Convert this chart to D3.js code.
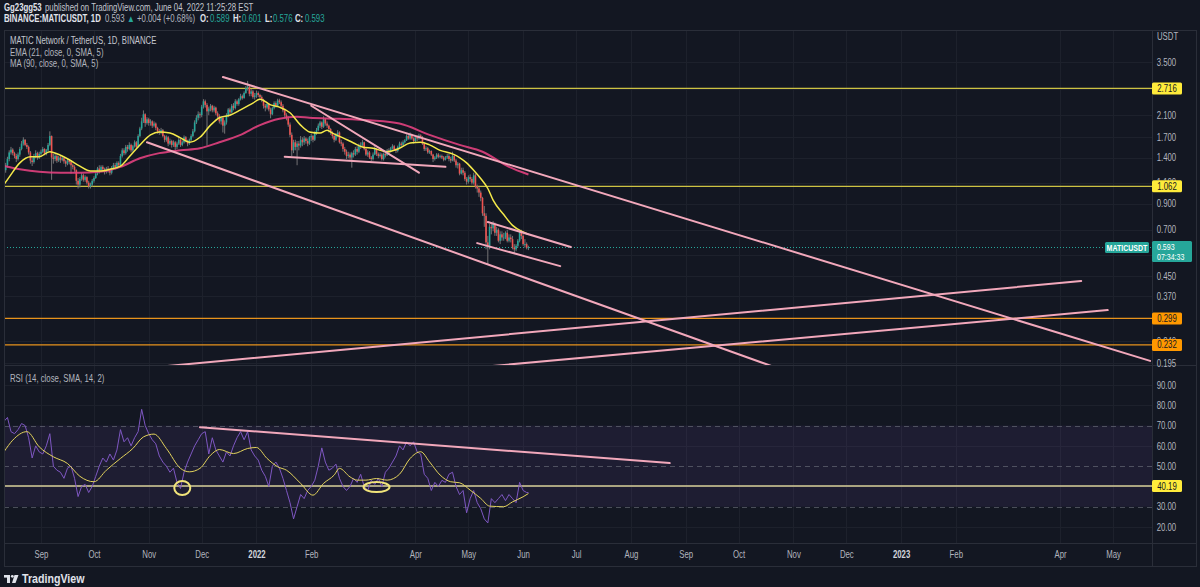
<!DOCTYPE html>
<html>
<head>
	<meta charset="utf-8">
	<script src="https://cdn.jsdelivr.net/npm/d3@7"></script>
	<style>
		body { margin: 0; background: #131722; }
		svg { display: block; }
		text { font-family: "Liberation Sans", Arial, sans-serif; }
	</style>
</head>
<body>
<svg></svg>
<script>
// daily candles, day 0 = 2021-08-11, open = previous close
var firstOpen = 1.20;
var closes = [
	1.24, 1.30, 1.38, 1.47, 1.51, 1.46, 1.42, 1.38, 1.44, 1.52, 1.60, 1.66, 1.58, 1.55, 1.47, 1.36, 1.34, 1.42, 1.46, 1.40, 1.45,
	1.48, 1.52, 1.45, 1.50, 1.58, 1.72, 1.40, 1.38, 1.42, 1.36, 1.40, 1.37, 1.39, 1.35, 1.32, 1.36, 1.34, 1.30, 1.28, 1.24, 1.12, 1.08, 1.14, 1.18, 1.13, 1.16, 1.10, 1.06, 1.08, 1.12,
	1.15, 1.20, 1.26, 1.24, 1.28, 1.25, 1.22, 1.26, 1.24, 1.21, 1.27, 1.30, 1.28, 1.33, 1.30, 1.42, 1.50, 1.46, 1.55, 1.52, 1.58, 1.50, 1.56, 1.62, 1.55, 1.72, 1.85, 1.98, 2.12, 1.95, 2.02,
	1.95, 1.98, 1.90, 1.94, 1.86, 1.80, 1.78, 1.82, 1.72, 1.66, 1.70, 1.60, 1.64, 1.58, 1.62, 1.55, 1.60, 1.66, 1.58, 1.62, 1.70, 1.64, 1.60, 1.66, 1.72, 1.80, 1.96, 2.05, 2.12, 2.10,
	2.28, 2.40, 2.32, 2.18, 2.24, 2.30, 2.20, 2.26, 2.14, 2.08, 1.98, 2.05, 1.90, 1.96, 2.10, 2.22, 2.16, 2.30, 2.25, 2.40, 2.34, 2.45, 2.52, 2.48, 2.60, 2.72, 2.76, 2.58, 2.64, 2.50, 2.54,
	2.60, 2.55, 2.50, 2.44, 2.30, 2.26, 2.34, 2.22, 2.12, 2.25, 2.36, 2.30, 2.42, 2.38, 2.30, 2.20, 2.10, 2.04, 1.92, 1.74, 1.50, 1.62, 1.55, 1.60, 1.57, 1.66, 1.62, 1.68, 1.64, 1.60, 1.70,
	1.72, 1.66, 1.78, 1.82, 1.90, 1.96, 1.88, 2.02, 1.94, 1.90, 1.84, 1.78, 1.72, 1.66, 1.74, 1.78, 1.62, 1.60, 1.52, 1.48, 1.42, 1.44, 1.40, 1.46, 1.44, 1.52, 1.48, 1.56,
	1.58, 1.62, 1.52, 1.44, 1.47, 1.40, 1.38, 1.44, 1.52, 1.45, 1.42, 1.44, 1.38, 1.45, 1.43, 1.50, 1.48, 1.53, 1.56, 1.51, 1.49, 1.55, 1.60, 1.58, 1.62, 1.65, 1.72, 1.68, 1.74, 1.68, 1.64,
	1.70, 1.68, 1.73, 1.70, 1.60, 1.52, 1.53, 1.47, 1.49, 1.44, 1.38, 1.40, 1.44, 1.41, 1.42, 1.40, 1.37, 1.40, 1.42, 1.38, 1.36, 1.42, 1.36, 1.30, 1.32, 1.20, 1.24, 1.21, 1.14, 1.11,
	1.16, 1.14, 1.10, 1.18, 1.06, 1.04, 1.00, 0.95, 0.82, 0.80, 0.62, 0.60, 0.72, 0.71, 0.74, 0.68, 0.70, 0.63, 0.67, 0.65, 0.65, 0.68, 0.63, 0.65, 0.64, 0.59, 0.58, 0.60, 0.63, 0.68, 0.66,
	0.61, 0.61, 0.589, 0.593
];
var highs = [
	1.27, 1.33, 1.41, 1.50, 1.55, 1.53, 1.48, 1.45, 1.47, 1.55, 1.64, 1.70, 1.67, 1.61, 1.57, 1.49, 1.40, 1.45, 1.50, 1.48, 1.48,
	1.51, 1.55, 1.53, 1.52, 1.61, 1.80, 1.73, 1.45, 1.46, 1.44, 1.42, 1.42, 1.41, 1.40, 1.37, 1.38, 1.38, 1.36, 1.32, 1.30, 1.25, 1.15, 1.16, 1.21, 1.20, 1.18, 1.17, 1.12, 1.10, 1.14,
	1.17, 1.22, 1.28, 1.30, 1.30, 1.30, 1.27, 1.28, 1.29, 1.26, 1.29, 1.33, 1.33, 1.35, 1.35, 1.45, 1.53, 1.53, 1.58, 1.58, 1.62, 1.60, 1.58, 1.65, 1.64, 1.75, 1.88, 2.05, 2.20, 2.14, 2.06,
	2.05, 2.02, 2.00, 1.98, 1.96, 1.88, 1.84, 1.86, 1.84, 1.74, 1.73, 1.72, 1.68, 1.66, 1.65, 1.64, 1.63, 1.69, 1.68, 1.65, 1.73, 1.72, 1.66, 1.68, 1.75, 1.84, 2.00, 2.10, 2.18, 2.16,
	2.32, 2.45, 2.44, 2.36, 2.28, 2.34, 2.32, 2.30, 2.28, 2.18, 2.12, 2.08, 2.08, 2.00, 2.14, 2.25, 2.26, 2.34, 2.36, 2.45, 2.44, 2.48, 2.58, 2.56, 2.64, 2.78, 2.92, 2.80, 2.70, 2.68, 2.60,
	2.66, 2.64, 2.58, 2.54, 2.46, 2.34, 2.38, 2.36, 2.26, 2.28, 2.40, 2.40, 2.46, 2.46, 2.42, 2.34, 2.24, 2.14, 2.08, 1.96, 1.78, 1.66, 1.66, 1.64, 1.64, 1.72, 1.70, 1.72, 1.70, 1.68, 1.72,
	1.76, 1.74, 1.80, 1.86, 1.94, 1.99, 1.98, 2.08, 2.04, 1.98, 1.92, 1.86, 1.80, 1.74, 1.77, 1.82, 1.80, 1.66, 1.62, 1.55, 1.51, 1.48, 1.47, 1.48, 1.50, 1.55, 1.56, 1.60,
	1.62, 1.66, 1.63, 1.54, 1.50, 1.49, 1.42, 1.47, 1.56, 1.53, 1.47, 1.47, 1.46, 1.47, 1.47, 1.52, 1.53, 1.55, 1.59, 1.58, 1.53, 1.57, 1.63, 1.63, 1.65, 1.67, 1.75, 1.76, 1.78, 1.76, 1.70,
	1.72, 1.73, 1.76, 1.75, 1.72, 1.62, 1.56, 1.55, 1.51, 1.50, 1.45, 1.42, 1.46, 1.46, 1.44, 1.44, 1.42, 1.42, 1.45, 1.45, 1.41, 1.48, 1.44, 1.38, 1.34, 1.33, 1.27, 1.27, 1.23, 1.16,
	1.18, 1.19, 1.16, 1.21, 1.20, 1.08, 1.06, 1.02, 0.96, 0.88, 0.82, 0.66, 0.74, 0.75, 0.76, 0.75, 0.72, 0.71, 0.69, 0.69, 0.68, 0.69, 0.70, 0.67, 0.67, 0.66, 0.61, 0.61, 0.64, 0.69, 0.70,
	0.67, 0.64, 0.62, 0.601
];
var lows = [
	1.17, 1.21, 1.27, 1.35, 1.44, 1.43, 1.39, 1.34, 1.36, 1.41, 1.50, 1.57, 1.56, 1.52, 1.44, 1.32, 1.29, 1.32, 1.39, 1.37, 1.38,
	1.42, 1.46, 1.43, 1.43, 1.48, 1.56, 1.13, 1.32, 1.35, 1.33, 1.34, 1.33, 1.35, 1.32, 1.28, 1.30, 1.31, 1.20, 1.25, 1.22, 1.08, 1.04, 1.05, 1.12, 1.11, 1.11, 1.08, 1.04, 1.04, 1.06,
	1.10, 1.14, 1.18, 1.20, 1.22, 1.22, 1.19, 1.20, 1.21, 1.18, 1.19, 1.25, 1.25, 1.26, 1.27, 1.29, 1.40, 1.43, 1.44, 1.48, 1.50, 1.47, 1.48, 1.54, 1.52, 1.54, 1.70, 1.82, 1.95, 1.88, 1.92,
	1.90, 1.90, 1.86, 1.87, 1.82, 1.76, 1.74, 1.75, 1.70, 1.62, 1.63, 1.56, 1.58, 1.54, 1.55, 1.50, 1.52, 1.58, 1.55, 1.56, 1.60, 1.62, 1.56, 1.58, 1.64, 1.70, 1.78, 1.93, 2.00, 2.04,
	2.06, 2.24, 2.26, 1.57, 2.10, 2.18, 2.16, 2.16, 2.10, 2.04, 1.94, 1.92, 1.78, 1.76, 1.92, 2.06, 2.10, 2.14, 2.20, 2.22, 2.30, 2.30, 2.42, 2.44, 2.46, 2.58, 2.66, 2.52, 2.52, 2.46, 2.44,
	2.48, 2.50, 2.46, 2.38, 2.24, 2.18, 2.22, 2.18, 2.04, 2.10, 2.22, 2.26, 2.28, 2.34, 2.26, 2.16, 2.06, 2.00, 1.88, 1.70, 1.42, 1.46, 1.50, 1.30, 1.50, 1.54, 1.56, 1.58, 1.60, 1.56, 1.58,
	1.64, 1.62, 1.64, 1.74, 1.80, 1.86, 1.84, 1.86, 1.90, 1.86, 1.78, 1.74, 1.68, 1.62, 1.64, 1.70, 1.60, 1.56, 1.48, 1.44, 1.38, 1.39, 1.37, 1.27, 1.40, 1.42, 1.44, 1.46,
	1.52, 1.55, 1.50, 1.42, 1.41, 1.38, 1.35, 1.36, 1.43, 1.42, 1.39, 1.40, 1.36, 1.36, 1.40, 1.42, 1.46, 1.47, 1.51, 1.49, 1.46, 1.47, 1.53, 1.55, 1.56, 1.60, 1.64, 1.66, 1.66, 1.66, 1.60,
	1.62, 1.64, 1.66, 1.68, 1.58, 1.49, 1.49, 1.45, 1.45, 1.42, 1.34, 1.36, 1.38, 1.39, 1.39, 1.38, 1.35, 1.36, 1.38, 1.35, 1.33, 1.35, 1.34, 1.27, 1.26, 1.18, 1.19, 1.18, 1.12, 1.08,
	1.09, 1.11, 1.08, 1.08, 1.04, 1.00, 0.96, 0.92, 0.80, 0.72, 0.58, 0.50, 0.58, 0.67, 0.69, 0.66, 0.66, 0.62, 0.61, 0.63, 0.63, 0.64, 0.62, 0.62, 0.62, 0.58, 0.56, 0.57, 0.59, 0.62, 0.64,
	0.60, 0.59, 0.58, 0.576
];

// indicator lines: [day, value]
var emaPts = [[0,1.08],[3,1.16],[9,1.33],[15,1.41],[20,1.41],[26,1.48],[32,1.43],[37,1.37],[43,1.29],[49,1.23],[54,1.23],[60,1.25],[66,1.29],[71,1.41],[77,1.58],[83,1.74],[88,1.79],[94,1.77],[100,1.69],[105,1.62],[111,1.70],[117,1.91],[122,2.05],[128,2.10],[134,2.21],[141,2.36],[145,2.45],[151,2.32],[156,2.27],[162,2.15],[168,1.91],[173,1.79],[179,1.77],[183,1.82],[186,1.77],[192,1.69],[198,1.61],[203,1.55],[209,1.53],[217,1.48],[224,1.53],[230,1.61],[236,1.62],[241,1.58],[247,1.50],[254,1.45],[258,1.40],[262,1.33],[266,1.24],[271,1.12],[274,1.04],[277,0.93],[283,0.81],[288,0.73],[294,0.685],[297,0.67]];
var maPts = [[0,1.29],[9,1.25],[20,1.22],[32,1.21],[43,1.21],[54,1.22],[66,1.28],[77,1.39],[88,1.46],[100,1.50],[111,1.53],[122,1.62],[134,1.74],[145,1.91],[156,2.03],[166,2.07],[173,2.05],[190,2.03],[207,2.00],[224,1.94],[241,1.74],[258,1.58],[271,1.48],[286,1.28],[297,1.19]];
var rsiPts = [[0,72],[2,74],[4,67],[6,66],[8,68],[10,71],[12,70],[14,64],[16,54],[18,60],[20,57],[22,56],[24,60],[26,66],[28,50],[30,48],[32,47],[34,44],[36,49],[38,50],[40,44],[42,35],[44,40],[46,41],[48,37],[50,40],[52,45],[54,50],[56,54],[58,52],[60,56],[62,53],[64,58],[66,68],[68,62],[70,64],[72,60],[74,64],[76,67],[78,78],[80,70],[82,66],[84,63],[86,61],[88,55],[90,52],[92,50],[94,47],[96,49],[98,42],[100,39],[102,47],[104,52],[106,56],[108,60],[110,63],[112,66],[114,67],[116,56],[118,64],[120,58],[122,55],[124,52],[126,57],[128,55],[130,60],[132,64],[134,67],[136,63],[138,67],[140,58],[142,55],[144,53],[146,48],[148,45],[150,40],[152,50],[154,52],[156,49],[158,44],[160,38],[162,32],[164,24],[166,30],[168,36],[170,34],[172,38],[174,40],[176,43],[178,50],[180,59],[182,52],[184,48],[186,49],[188,51],[190,44],[192,40],[194,38],[196,40],[198,44],[200,42],[202,46],[204,40],[206,38],[208,43],[210,41],[212,44],[214,40],[216,47],[218,49],[220,52],[222,55],[224,60],[226,58],[228,62],[230,60],[232,62],[234,57],[236,56],[238,46],[240,44],[242,38],[244,42],[246,40],[248,43],[250,42],[252,46],[254,47],[256,40],[258,36],[260,38],[262,27],[264,34],[266,38],[268,32],[270,29],[272,24],[274,22],[276,34],[278,32],[280,34],[282,36],[284,33],[286,36],[288,34],[290,32],[292,42],[294,38],[296,37],[297,37]];
var rsiMaPts = [[0,57],[5,62.8],[13,67],[20,59.5],[28,54.6],[36,51.3],[43,45],[51,42.3],[58,48],[66,53.8],[73,58.7],[79,64.4],[85,65.8],[92,58.7],[100,48.9],[105,47.2],[111,48.9],[117,55.4],[122,58.2],[130,56.2],[138,58.7],[143,59.2],[149,53.8],[155,49.7],[160,48],[168,41.5],[175,35.7],[181,41.5],[187,45.6],[190,48.9],[196,44.7],[200,43.1],[205,43.1],[211,43.9],[217,43.1],[224,46],[230,53.8],[236,57.1],[241,52.1],[247,45.6],[253,42.3],[258,41.8],[264,38.2],[270,34.1],[275,30.3],[283,30],[288,32.4],[294,34.9],[297,36.5]];

// drawn levels and trend lines
var priceLevels = [2.716, 1.062, 0.299, 0.232];
var rsiLevel = 40.19;
var trendLines = [
	[["2021-12-13", 3.03], ["2023-05-22", 0.199]],
	[["2021-10-31", 1.62], ["2022-10-20", 0.189]],
	[["2022-02-01", 2.30], ["2022-04-03", 1.21]],
	[["2022-01-17", 1.41], ["2022-04-18", 1.28]],
	[["2022-05-12", 0.754], ["2022-06-28", 0.593]],
	[["2022-05-06", 0.616], ["2022-06-22", 0.494]],
	[["2021-11-10", 0.189], ["2023-04-13", 0.428]],
	[["2022-05-13", 0.189], ["2023-04-28", 0.324]]
];
var rsiTrend = [["2021-11-30", 69.2], ["2022-08-23", 51.5]];
var rsiMarks = [["2021-11-20", 39.2], ["2022-03-10", 39.7]];

// axes
var priceGrid = [3.5, 2.7, 2.1, 1.7, 1.4, 1.1, 0.9, 0.7, 0.55, 0.45, 0.37, 0.3, 0.24, 0.195];
var priceTicks = [3.5, 2.1, 1.7, 1.4, 1.1, 0.9, 0.7, 0.45, 0.37, 0.3, 0.24, 0.195];
var rsiTicks = [20, 30, 50, 60, 70, 80, 90];
var timeTicks = ["2021-09-01","2021-10-01","2021-11-01","2021-12-01","2022-01-01","2022-02-01","2022-04-01","2022-05-01","2022-06-01","2022-07-01","2022-08-01","2022-09-01","2022-10-01","2022-11-01","2022-12-01","2023-01-01","2023-02-01","2023-04-01","2023-05-01"];
var timeLabels = ["Sep","Oct","Nov","Dec","2022","Feb","Apr","May","Jun","Jul","Aug","Sep","Oct","Nov","Dec","2023","Feb","Apr","May"];

var parse = d3.timeParse("%Y-%m-%d");
var startDay = parse("2021-08-11");
function dayDate(i) { return d3.timeDay.offset(startDay, i); }

var W = 1200, H = 587;
var plotL = 4, plotR = 1152, outerR = 1196;
var mainT = 31, mainB = 365, rsiT = 366, rsiB = 543, axisB = 566;
var squeeze = 0.78;   // the screenshot's lettering is narrow

var x = d3.scaleTime().domain([parse("2021-09-01"), parse("2023-05-01")]).range([41, 1113]);
var y = d3.scaleLog().domain([3.5, 0.195]).range([62, 363]);
var yr = d3.scaleLinear().domain([20, 90]).range([527, 385]);

var svg = d3.select("svg").attr("width", W).attr("height", H);
svg.append("rect").attr("width", W).attr("height", H).attr("fill", "#131722");

function txt(x0, y0, s, size, color, bold, anchor) {
	return svg.append("text")
		.attr("transform", "translate(" + x0 + "," + y0 + ") scale(" + squeeze + ",1)")
		.attr("text-anchor", anchor || "start")
		.attr("font-size", size).attr("font-weight", bold ? "bold" : "normal")
		.attr("fill", color).text(s);
}

var defs = svg.append("defs");
defs.append("clipPath").attr("id", "clipMain").append("rect")
	.attr("x", plotL).attr("y", mainT).attr("width", plotR - plotL).attr("height", mainB - mainT);
defs.append("clipPath").attr("id", "clipRsi").append("rect")
	.attr("x", plotL).attr("y", rsiT).attr("width", plotR - plotL).attr("height", rsiB - rsiT);

// grid
var grid = svg.append("g").attr("stroke", "#1d212c").attr("stroke-width", 1);
grid.selectAll(".vg").data(timeTicks).enter().append("line")
	.attr("x1", function(d) { return Math.round(x(parse(d))) + 0.5; })
	.attr("x2", function(d) { return Math.round(x(parse(d))) + 0.5; })
	.attr("y1", mainT).attr("y2", rsiB);
grid.selectAll(".hg").data(priceGrid).enter().append("line")
	.attr("x1", plotL).attr("x2", plotR)
	.attr("y1", function(d) { return Math.round(y(d)) + 0.5; })
	.attr("y2", function(d) { return Math.round(y(d)) + 0.5; });
grid.selectAll(".rg").data([20, 40, 60, 80, 90]).enter().append("line")
	.attr("x1", plotL).attr("x2", plotR)
	.attr("y1", function(d) { return Math.round(yr(d)) + 0.5; })
	.attr("y2", function(d) { return Math.round(yr(d)) + 0.5; });

// rsi band
var rsiG = svg.append("g").attr("clip-path", "url(#clipRsi)");
rsiG.append("rect").attr("x", plotL).attr("width", plotR - plotL)
	.attr("y", yr(70)).attr("height", yr(30) - yr(70))
	.attr("fill", "#7e57c2").attr("fill-opacity", 0.1);
rsiG.selectAll(".band").data([70, 50, 30]).enter().append("line")
	.attr("x1", plotL).attr("x2", plotR)
	.attr("y1", function(d) { return Math.round(yr(d)) + 0.5; })
	.attr("y2", function(d) { return Math.round(yr(d)) + 0.5; })
	.attr("stroke", "#787b86").attr("stroke-opacity", 0.55).attr("stroke-dasharray", "5,4");

// main pane
var mainG = svg.append("g").attr("clip-path", "url(#clipMain)");
var levelColors = ["#cdc243", "#cdc243", "#e8931c", "#e8931c"];
mainG.selectAll(".lvl").data(priceLevels).enter().append("line")
	.attr("x1", plotL).attr("x2", plotR)
	.attr("y1", function(d) { return y(d); }).attr("y2", function(d) { return y(d); })
	.attr("stroke", function(d, i) { return levelColors[i]; }).attr("stroke-width", 1.2);

mainG.append("line").attr("x1", plotL).attr("x2", plotR)
	.attr("y1", Math.round(y(0.593)) + 0.5).attr("y2", Math.round(y(0.593)) + 0.5)
	.attr("stroke", "#26a69a").attr("stroke-dasharray", "1,2");

var candles = closes.map(function(c, i) {
	return { date: dayDate(i), open: i ? closes[i - 1] : firstOpen, high: highs[i], low: lows[i], close: c };
});
var cg = mainG.append("g");
cg.selectAll(".wick").data(candles).enter().append("line")
	.attr("x1", function(d) { return x(d.date); }).attr("x2", function(d) { return x(d.date); })
	.attr("y1", function(d) { return y(d.high); }).attr("y2", function(d) { return y(d.low); })
	.attr("stroke", "#737375").attr("stroke-width", 1);
cg.selectAll(".body").data(candles).enter().append("rect")
	.attr("x", function(d) { return x(d.date) - 0.8; })
	.attr("width", 1.6)
	.attr("y", function(d) { return y(Math.max(d.open, d.close)); })
	.attr("height", function(d) { return Math.max(1, y(Math.min(d.open, d.close)) - y(Math.max(d.open, d.close))); })
	.attr("fill", function(d) { return d.close >= d.open ? "#26a69a" : "#ef5350"; });

var priceLine = d3.line()
	.x(function(d) { return x(dayDate(d[0])); })
	.y(function(d) { return y(d[1]); })
	.curve(d3.curveMonotoneX);
mainG.append("path").attr("d", priceLine(maPts))
	.attr("fill", "none").attr("stroke", "#e2407e").attr("stroke-width", 2).attr("stroke-opacity", 0.9);
mainG.append("path").attr("d", priceLine(emaPts))
	.attr("fill", "none").attr("stroke", "#f4e94a").attr("stroke-width", 1.5);

mainG.selectAll(".trend").data(trendLines).enter().append("line")
	.attr("x1", function(d) { return x(parse(d[0][0])); })
	.attr("y1", function(d) { return y(d[0][1]); })
	.attr("x2", function(d) { return x(parse(d[1][0])); })
	.attr("y2", function(d) { return y(d[1][1]); })
	.attr("stroke", "#f2a8bb").attr("stroke-width", 2).attr("stroke-linecap", "round");

// rsi pane
rsiG.append("line").attr("x1", plotL).attr("x2", plotR)
	.attr("y1", yr(rsiLevel)).attr("y2", yr(rsiLevel))
	.attr("stroke", "#d9d09a").attr("stroke-width", 1.6);
var rsiLine = d3.line()
	.x(function(d) { return x(dayDate(d[0])); })
	.y(function(d) { return yr(d[1]); });
rsiG.append("path").attr("d", rsiLine(rsiPts))
	.attr("fill", "none").attr("stroke", "#7e57c2").attr("stroke-width", 1);
rsiG.append("path").attr("d", rsiLine.curve(d3.curveMonotoneX)(rsiMaPts))
	.attr("fill", "none").attr("stroke", "#e3d35c").attr("stroke-width", 1);
rsiG.append("line")
	.attr("x1", x(parse(rsiTrend[0][0]))).attr("y1", yr(rsiTrend[0][1]))
	.attr("x2", x(parse(rsiTrend[1][0]))).attr("y2", yr(rsiTrend[1][1]))
	.attr("stroke", "#f2a8bb").attr("stroke-width", 2).attr("stroke-linecap", "round");
var markR = [[8, 7], [13, 5]];
rsiG.selectAll(".mark").data(rsiMarks).enter().append("ellipse")
	.attr("cx", function(d) { return x(parse(d[0])); })
	.attr("cy", function(d) { return yr(d[1]); })
	.attr("rx", function(d, i) { return markR[i][0]; })
	.attr("ry", function(d, i) { return markR[i][1]; })
	.attr("fill", "none").attr("stroke", "#f1e47a").attr("stroke-width", 2);

// frame
var frame = svg.append("g").attr("stroke", "#2a2e39").attr("fill", "none");
frame.append("rect").attr("x", plotL + 0.5).attr("y", 30.5).attr("width", outerR - plotL).attr("height", axisB - 30);
frame.append("line").attr("x1", plotL).attr("x2", outerR).attr("y1", mainB + 0.5).attr("y2", mainB + 0.5);
frame.append("line").attr("x1", plotL).attr("x2", outerR).attr("y1", rsiB + 0.5).attr("y2", rsiB + 0.5);
frame.append("line").attr("x1", plotR + 0.5).attr("x2", plotR + 0.5).attr("y1", 30).attr("y2", axisB);

// axes
var yAxis = d3.axisRight(y).tickValues(priceTicks).tickFormat(d3.format(".3f")).tickSize(0).tickPadding(6);
var ya = svg.append("g").attr("transform", "translate(" + plotR + ",0)").call(yAxis);
var rAxis = d3.axisRight(yr).tickValues(rsiTicks).tickFormat(d3.format(".2f")).tickSize(0).tickPadding(6);
var ra = svg.append("g").attr("transform", "translate(" + plotR + ",0)").call(rAxis);
var xAxis = d3.axisBottom(x).tickValues(timeTicks.map(parse))
	.tickFormat(function(d, i) { return timeLabels[i]; }).tickSize(0).tickPadding(7);
var xa = svg.append("g").attr("transform", "translate(0," + (rsiB + 1) + ")").call(xAxis);
[ya, ra, xa].forEach(function(g) {
	g.select(".domain").remove();
	g.selectAll("text").attr("fill", "#b2b5be").attr("font-size", 10)
		.attr("font-family", "\"Liberation Sans\", Arial, sans-serif")
		.attr("transform", "scale(" + squeeze + ",1)");
});
xa.selectAll("text")
	.attr("fill", function(d, i) { return /^20/.test(timeLabels[i]) ? "#d1d4dc" : "#b2b5be"; })
	.attr("font-weight", function(d, i) { return /^20/.test(timeLabels[i]) ? "bold" : "normal"; });

txt(1157, 40, "USDT", 10, "#b2b5be");

function tag(yPos, label, bg) {
	svg.append("rect").attr("x", plotR).attr("y", yPos - 6).attr("width", 30).attr("height", 12)
		.attr("fill", bg).attr("rx", 1.5);
	txt(plotR + 15, yPos + 3.5, label, 10, "#131722", false, "middle");
}
tag(y(2.716), "2.716", "#ffeb3b");
tag(y(1.062), "1.062", "#ffeb3b");
tag(y(0.299), "0.299", "#ff9800");
tag(y(0.232), "0.232", "#ff9800");
tag(yr(rsiLevel), "40.19", "#ffeb3b");

var py = y(0.593);
svg.append("rect").attr("x", 1105).attr("y", py - 5).attr("width", 44).attr("height", 11).attr("fill", "#26a69a").attr("rx", 1.5);
txt(1127, py + 3.5, "MATICUSDT", 9, "#ffffff", true, "middle");
svg.append("rect").attr("x", plotR).attr("y", py - 6).attr("width", 40).attr("height", 21).attr("fill", "#26a69a").attr("rx", 1.5);
txt(plotR + 5, py + 3, "0.593", 9, "#ffffff");
txt(plotR + 5, py + 13, "07:34:33", 9, "#ffffff");

// header and legends
txt(4, 11, "Gg23gg53", 10, "#e0e3eb", true);
txt(45, 11, "published on TradingView.com, June 04, 2022 11:25:28 EST", 10, "#c3c6ce");
var h2parts = [
	[4, "BINANCE:MATICUSDT, 1D", "#e0e3eb", true],
	[105, "0.593", "#b2b5be", false],
	[127, "\u25B2", "#26a69a", false],
	[137, "+0.004 (+0.68%)", "#b2b5be", false],
	[200, "O:", "#e0e3eb", true],
	[210, "0.589", "#26a69a", false],
	[233, "H:", "#e0e3eb", true],
	[242, "0.601", "#26a69a", false],
	[265, "L:", "#e0e3eb", true],
	[273, "0.576", "#26a69a", false],
	[295, "C:", "#e0e3eb", true],
	[305, "0.593", "#26a69a", false]
];
h2parts.forEach(function(p) { txt(p[0], 21.5, p[1], 10, p[2], p[3]); });

txt(10, 44, "MATIC Network / TetherUS, 1D, BINANCE", 10, "#c3c6ce");
txt(10, 55.5, "EMA (21, close, 0, SMA, 5)", 10, "#b2b5be");
txt(10, 66.5, "MA (90, close, 0, SMA, 5)", 10, "#b2b5be");
txt(10, 382, "RSI (14, close, SMA, 14, 2)", 10, "#b2b5be");

// footer logo
var logo = svg.append("g").attr("fill", "#e0e3eb");
logo.append("rect").attr("x", 4).attr("y", 575).attr("width", 6).attr("height", 2.6);
logo.append("rect").attr("x", 7).attr("y", 575).attr("width", 3).attr("height", 8);
logo.append("circle").attr("cx", 12.3).attr("cy", 576.3).attr("r", 1.4);
logo.append("polygon").attr("points", "14.5,575 18.5,575 15.5,583 12,583");
txt(22, 583, "TradingView", 13, "#e0e3eb", true).attr("font-family", "\"Open Sans\", sans-serif")
	.attr("transform", "translate(22,583) scale(0.82,1)");
</script>
</body>
</html>
